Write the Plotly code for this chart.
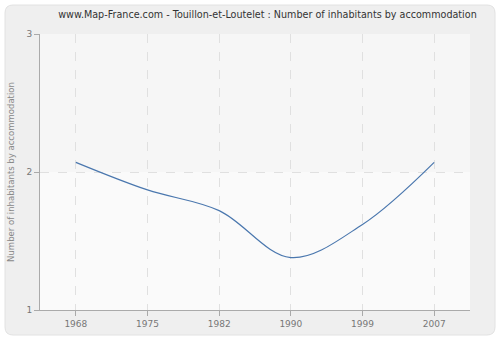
import plotly.graph_objects as go

years = ["1968", "1975", "1982", "1990", "1999", "2007"]
values = [2.07, 1.87, 1.72, 1.38, 1.62, 2.07]
y_ticks = [1, 2, 3]

fig = go.Figure()
fig.add_trace(go.Scatter(
    x=years, y=values, mode="lines",
    line=dict(color="#4a77ae", width=1.2, shape="spline", smoothing=1.0),
    hoverinfo="skip", showlegend=False,
))

W, H = 500, 340
x0, y0, x1, y1, r = 5, 5, 495, 335, 8
pl, pr, pt, pb = 40, 30, 34, 30
pw, ph = W - pl - pr, H - pt - pb
def px(xp):
    return (xp - pl) / pw
def py(yp):
    return 1 - (yp - pt) / ph
path_paper = (f"M {px(x0+r)},{py(y0)} L {px(x1-r)},{py(y0)} Q {px(x1)},{py(y0)} {px(x1)},{py(y0+r)} "
              f"L {px(x1)},{py(y1-r)} Q {px(x1)},{py(y1)} {px(x1-r)},{py(y1)} L {px(x0+r)},{py(y1)} "
              f"Q {px(x0)},{py(y1)} {px(x0)},{py(y1-r)} L {px(x0)},{py(y0+r)} Q {px(x0)},{py(y0)} {px(x0+r)},{py(y0)} Z")

fig.update_layout(
    width=W, height=H,
    margin=dict(l=pl, r=pr, t=pt, b=pb),
    paper_bgcolor="white",
    plot_bgcolor="#f9f9f9",
    title=dict(text="www.Map-France.com - Touillon-et-Loutelet : Number of inhabitants by accommodation",
               x=0.535, xanchor="center", y=0.958, yanchor="middle",
               font=dict(family="DejaVu Sans", size=9.6, color="#333333")),
    font=dict(family="DejaVu Sans", size=9, color="#666666"),
    shapes=[
        dict(type="path", xref="paper", yref="paper", path=path_paper, layer="below",
             fillcolor="#efefef", line=dict(color="#e2e2e2", width=1)),
        dict(type="rect", xref="paper", yref="y", x0=0, x1=1, y0=2, y1=3, layer="below",
             fillcolor="#f6f6f6", line=dict(width=0)),
        dict(type="rect", xref="paper", yref="y", x0=0, x1=1, y0=1, y1=2, layer="below",
             fillcolor="#fafafa", line=dict(width=0)),
    ],
)

fig.update_xaxes(
    type="category", range=[-0.5, 5.5],
    showline=True, linecolor="#aaaaaa", linewidth=1,
    ticks="outside", ticklen=5, tickcolor="#aaaaaa",
    showgrid=True, gridcolor="#e0e0e0", griddash="dash", gridwidth=1,
    tickfont=dict(family="DejaVu Sans", size=9, color="#777777"),
    zeroline=False, fixedrange=True,
)
fig.update_yaxes(
    range=[1, 3], tickvals=y_ticks, ticktext=[str(v) for v in y_ticks],
    showline=True, linecolor="#aaaaaa", linewidth=1,
    ticks="outside", ticklen=5, tickcolor="#aaaaaa",
    showgrid=True, gridcolor="#e0e0e0", griddash="dash", gridwidth=1,
    tickfont=dict(family="DejaVu Sans", size=9, color="#777777"),
    title=dict(text="Number of inhabitants by accommodation", standoff=10,
               font=dict(family="DejaVu Sans", size=8.5, color="#888888")),
    zeroline=False, fixedrange=True,
)

fig.write_html("out.html", config=dict(displayModeBar=False))
